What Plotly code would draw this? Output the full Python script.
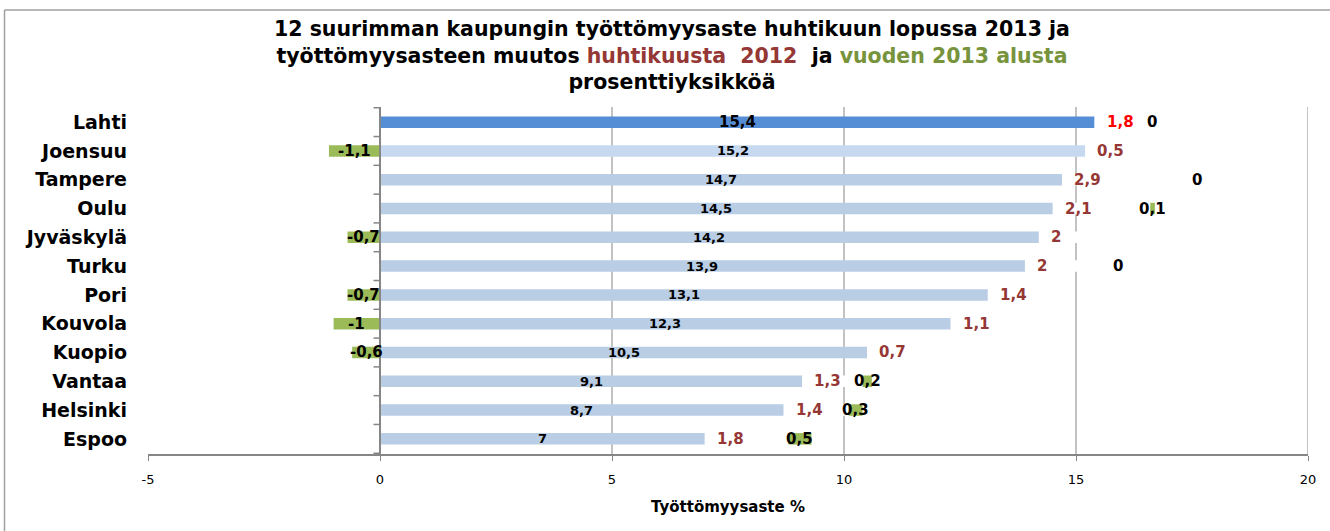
import plotly.graph_objects as go

cities = ["Lahti", "Joensuu", "Tampere", "Oulu", "Jyväskylä", "Turku",
          "Pori", "Kouvola", "Kuopio", "Vantaa", "Helsinki", "Espoo"]
rate_2013 = [15.4, 15.2, 14.7, 14.5, 14.2, 13.9, 13.1, 12.3, 10.5, 9.1, 8.7, 7.0]
change_from_2012 = [1.8, 0.5, 2.9, 2.1, 2.0, 2.0, 1.4, 1.1, 0.7, 1.3, 1.4, 1.8]
change_from_jan = [0.0, -1.1, 0.0, 0.1, -0.7, 0.0, -0.7, -1.0, -0.6, 0.2, 0.3, 0.5]
x_ticks = [-5, 0, 5, 10, 15, 20]
title_lines = [
    "12 suurimman kaupungin työttömyysaste huhtikuun lopussa 2013 ja",
    "työttömyysasteen muutos <span style='color:#953735'>huhtikuusta  2012</span>  ja "
    "<span style='color:#77933C'>vuoden 2013 alusta</span>",
    "prosenttiyksikköä",
]

BLUE_HI = "#558ED5"
BLUE_2 = "#C6D9F1"
BLUE = "#B9CDE5"
GREEN = "#9BBB59"
RED = "#953735"
GRID = "#868686"
FONT = "DejaVu Sans"


def fmt(v):
    return f"{v:g}".replace(".", ",")


bar_colors = [BLUE_HI if i == 0 else (BLUE_2 if i == 1 else BLUE) for i in range(len(cities))]

fig = go.Figure()
fig.add_trace(go.Bar(y=cities, x=rate_2013, orientation="h", marker=dict(color=bar_colors, line_width=0),
                     hoverinfo="skip", showlegend=False))
fig.add_trace(go.Bar(y=cities, x=change_from_2012, orientation="h", marker=dict(color="white", line_width=0),
                     hoverinfo="skip", showlegend=False))
fig.add_trace(go.Bar(y=cities, x=change_from_jan, orientation="h", marker=dict(color=GREEN, line_width=0),
                     hoverinfo="skip", showlegend=False))

annotations = []
for i, c in enumerate(cities):
    v = rate_2013[i]
    r = change_from_2012[i]
    # main value, centred in bar
    annotations.append(dict(x=v / 2, y=c, xref="x", yref="y", text=f"<b>{fmt(v)}</b>", showarrow=False,
                            font=dict(family=FONT, size=15 if i == 0 else 13, color="black"),
                            xanchor="center", yanchor="middle"))
    # change since 2012, next to bar end
    annotations.append(dict(x=v, y=c, xref="x", yref="y", text=f"<b>{fmt(r)}</b>", showarrow=False,
                            font=dict(family=FONT, size=15, color="#FF0000" if i == 0 else RED),
                            xanchor="left", yanchor="middle", xshift=10))
for i, c in enumerate(cities):
    v = rate_2013[i]
    r = change_from_2012[i]
    g = change_from_jan[i]
    gx = g / 2 if g < 0 else v + r + g / 2
    annotations.append(dict(x=gx, y=c, xref="x", yref="y", text=f"<b>{fmt(g)}</b>", showarrow=False,
                            font=dict(family=FONT, size=15, color="black"),
                            xanchor="center", yanchor="middle", xshift=-26 if i == 0 else 0))

# title
annotations.append(dict(text="<b>" + "<br>".join(title_lines) + "</b>", xref="paper", yref="paper",
                        x=0.4517, y=1 + (107 - 55) / 347, xanchor="center", yanchor="middle",
                        showarrow=False, align="center",
                        font=dict(family=FONT, size=20.5, color="black")))

shapes = []
# vertical gridlines (not at the plot's left edge)
for t in x_ticks:
    if t > 0:
        shapes.append(dict(type="line", xref="x", yref="paper", x0=t, x1=t, y0=0, y1=1,
                           line=dict(color=GRID, width=1), layer="below"))
# category tick marks on the zero axis
for k in range(len(cities) + 1):
    shapes.append(dict(type="line", xref="x", yref="y", x0=-0.14, x1=0, y0=k - 0.5, y1=k - 0.5,
                       line=dict(color=GRID, width=1.5), layer="above"))
# zero axis line
shapes.append(dict(type="line", xref="x", yref="paper", x0=0, x1=0, y0=0, y1=1,
                   line=dict(color=GRID, width=2), layer="above"))
# outer chart frame (top and left edges)
shapes.append(dict(type="line", xref="paper", yref="paper", x0=-0.1237, x1=1.2, y0=1.2795, y1=1.2795,
                   line=dict(color="#A0A0A0", width=1.5)))
shapes.append(dict(type="line", xref="paper", yref="paper", x0=-0.1237, x1=-0.1237, y0=1.2795, y1=-0.4,
                   line=dict(color="#A0A0A0", width=1.5)))

fig.update_layout(
    width=1330, height=531,
    barmode="relative", bargap=0.6,
    plot_bgcolor="white", paper_bgcolor="white",
    margin=dict(l=148, r=22, t=107, b=77),
    xaxis=dict(range=[-5, 20], tickvals=x_ticks, ticktext=[str(t) for t in x_ticks],
               showgrid=False, zeroline=False, showline=True, linecolor=GRID, linewidth=1.5,
               ticks="outside", ticklen=5, tickcolor=GRID, ticklabelstandoff=8, automargin=False,
               tickfont=dict(family=FONT, size=13, color="black"),
               title=dict(text="<b>Työttömyysaste %</b>", font=dict(family=FONT, size=15, color="black"),
                          standoff=15)),
    yaxis=dict(autorange="reversed", showgrid=False, zeroline=False, showline=False, ticks="",
               ticklabelstandoff=20, automargin=False, tickfont=dict(family=FONT, size=19, color="black"),
               tickprefix="<b>", ticksuffix="</b>"),
    annotations=annotations,
    shapes=shapes,
)

fig.write_html("out.html", config={"displayModeBar": False},
               post_script="document.body.style.margin='0';document.body.style.overflow='hidden';")
